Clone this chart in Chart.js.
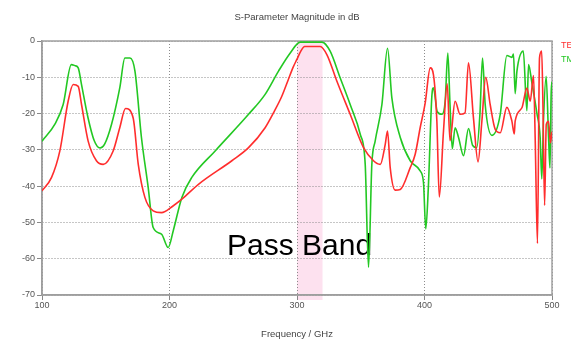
<!DOCTYPE html>
<html>
<head>
<meta charset="utf-8">
<script src="https://cdn.jsdelivr.net/npm/chart.js@4.4.1/dist/chart.umd.min.js"></script>
<style>
  html, body { margin: 0; padding: 0; background: #fff; }
  #wrap { width: 571px; height: 343px; position: relative; }
</style>
</head>
<body>
<div id="wrap"><canvas id="sparamChart"></canvas></div>
<script>
// TE mode (red), frequency in GHz and magnitude in dB
const teFreq = [100, 107.5, 114, 120.5, 124.5, 128.4, 131, 136.2, 142.7, 148, 155.8, 161, 165.5, 171.5,
  175.5, 180.7, 187.2, 193.7, 203, 209.7, 222.7, 248.9, 262, 275, 282, 288, 293, 297, 300, 303, 306,
  318.2, 323.5, 331.3, 341.7, 352.2, 360, 365.3, 369.2, 371, 373.1, 377, 381, 388.8, 392.7, 396.6,
  400.5, 404.5, 407, 409.7, 411.6, 414.9, 417.8, 420, 424, 427.9, 431.8, 434.5, 438.4, 442, 445,
  448, 451.5, 455.4, 459.4, 464.6, 468.5, 470.4, 471.1, 476.4, 480.3, 482.9, 485.5, 486.8, 488.6,
  490.2, 491.9, 492.9, 494.2, 495.5, 497.3, 498.7, 500];
const teMag = [-41.3, -37.6, -30.3, -16.6, -12, -12.5, -17.5, -27.6, -33, -34, -30.3, -23.9, -18.6, -21.2,
  -34, -43.1, -46.8, -47.3, -45.4, -43.6, -39.5, -33, -29.4, -23.9, -19.5, -15.3, -10.8, -7.2, -5, -2.8, -1.5,
  -1.5, -3.8, -11.1, -20.2, -29.4, -33, -34, -28.5, -24.8, -34.9, -41.1, -40.9, -34.9, -31.2, -23.9,
  -17.2, -7.4, -9.3, -22.1, -43, -24.8, -11.8, -27.5, -16.6, -20.2, -19.8, -6, -21.2, -33.3, -22.1,
  -10, -17.5, -24.3, -25.3, -18.3, -22, -25.6, -22.1, -18.4, -13, -16.6, -9.5, -26.6, -55.8,
  -4.7, -2.8, -17.5, -45.3, -23, -22.1, -28, -25];

// TM mode (green)
const tmFreq = [100, 110, 116.6, 123, 126, 128.4, 131, 136, 141, 145.5, 149, 154.5, 161, 165, 169, 172.9,
  178, 183.3, 187.2, 193.7, 199, 203, 209.7, 217.5, 235.8, 262, 275, 285.5, 294.7, 302.5, 319.5, 326,
  333.9, 341.7, 349.6, 353.5, 356.1, 358.7, 361.3, 366.6, 371, 374.4, 381, 388.8, 396.6, 399.2, 401,
  403, 405.8, 407, 410, 413.6, 416.2, 418.3, 420, 421.8, 424, 426.7, 430.6, 434.5, 437.8, 441, 443.5,
  445.5, 447.6, 452.9, 459.4, 464.6, 468.5, 469.8, 471.1, 472.5, 477.5, 480.3, 481.6, 484.2, 488.2,
  490.7, 492, 493.3, 495.4, 497.3, 498.4, 499.3, 500];
const tmMag = [-27.6, -23, -17.5, -6.5, -6.8, -7.4, -12, -21, -27.5, -29.5, -28.5, -23, -12.9, -4.7, -4.7, -8.3,
  -26.6, -40.4, -51.4, -53.2, -56.9, -52.2, -43.1, -37.6, -30.3, -20.2, -14.7, -8.3, -3.3, -0.3, -0.3, -2.8,
  -10.2, -17.5, -25.7, -34, -62.4, -34, -27.6, -17.5, -2, -15.7, -26.6, -33, -35.8, -39, -51.8,
  -40.4, -15, -12.9, -19.5, -20.2, -16.6, -3.3, -17.5, -29.7, -23.9, -26.6, -31.6, -24.1, -28.8, -29.4, -20,
  -4.7, -17.5, -26, -20.2, -4, -4.5, -3.6, -14.5, -8.3, -2.8, -19.2, -6.5, -11.5, -20,
  -26.6, -38, -22.1, -9.7, -26.6, -35, -15, -11.2];

const xTicks = [100, 200, 300, 400, 500];
const yTicks = [0, -10, -20, -30, -40, -50, -60, -70];
const passBand = [300, 320];

function toPoints(xs, ys) {
  return xs.map((x, i) => ({ x: x, y: ys[i] }));
}

// pink pass band strip behind everything
const passBandPlugin = {
  id: "passBand",
  beforeDraw(chart) {
    const { ctx, chartArea } = chart;
    const x = chart.scales.x;
    const x1 = x.getPixelForValue(passBand[0]);
    const x2 = x.getPixelForValue(passBand[1]);
    ctx.save();
    ctx.fillStyle = "rgba(252, 205, 228, 0.6)";
    ctx.fillRect(x1, chartArea.top, x2 - x1, chartArea.bottom - chartArea.top + 5);
    ctx.restore();
  },
  beforeDatasetsDraw(chart) {
    const { ctx, chartArea } = chart;
    const x = chart.scales.x;
    const y = chart.scales.y;
    ctx.save();
    // frame around plot
    ctx.strokeStyle = "#a0a0a0";
    ctx.lineWidth = 1.5;
    ctx.strokeRect(chartArea.left, chartArea.top, chartArea.right - chartArea.left, chartArea.bottom - chartArea.top);
    // big annotation
    ctx.fillStyle = "#000";
    ctx.font = "30px 'Liberation Sans', Arial, sans-serif";
    ctx.textAlign = "center";
    ctx.textBaseline = "alphabetic";
    ctx.fillText("Pass Band", x.getPixelForValue(302), y.getPixelForValue(-59));
    ctx.restore();
  },
  afterDraw(chart) {
    const { ctx, chartArea } = chart;
    ctx.save();
    ctx.fillStyle = "#444";
    ctx.font = "9.5px 'Liberation Sans', Arial, sans-serif";
    ctx.textAlign = "center";
    ctx.textBaseline = "middle";
    ctx.fillText("S-Parameter Magnitude in dB", (chartArea.left + chartArea.right) / 2, 17);
    // legend, cut off by the page edge like in the original
    ctx.textAlign = "left";
    ctx.font = "9px 'Liberation Sans', Arial, sans-serif";
    ctx.fillStyle = "rgb(255, 45, 45)";
    ctx.fillText("TE", chartArea.right + 9, 46);
    ctx.fillStyle = "rgb(35, 200, 35)";
    ctx.fillText("TM", chartArea.right + 9, 60);
    ctx.restore();
  }
};

const tickFont = { family: "'Liberation Sans', Arial, sans-serif", size: 9 };

const ctx = document.getElementById("sparamChart").getContext("2d");
new Chart(ctx, {
  type: "line",
  data: {
    datasets: [
      {
        label: "TE",
        data: toPoints(teFreq, teMag),
        borderColor: "rgb(255, 45, 45)",
        borderWidth: 1.6,
        pointRadius: 0,
        cubicInterpolationMode: "monotone",
        fill: false,
      },
      {
        label: "TM",
        data: toPoints(tmFreq, tmMag),
        borderColor: "rgb(35, 200, 35)",
        borderWidth: 1.6,
        pointRadius: 0,
        cubicInterpolationMode: "monotone",
        fill: false,
      },
    ],
  },
  options: {
    responsive: true,
    maintainAspectRatio: false,
    animation: false,
    layout: { padding: { top: 41, right: 19, left: 0, bottom: 0 } },
    plugins: {
      legend: { display: false },
      tooltip: { enabled: false },
      title: { display: false },
    },
    scales: {
      x: {
        type: "linear",
        min: 100,
        max: 500,
        afterBuildTicks: (scale) => { scale.ticks = xTicks.map((v) => ({ value: v })); },
        afterFit: (scale) => { scale.height = 48; },
        grid: { color: "#8c8c8c", lineWidth: 1, tickLength: 5, tickColor: "#888" },
        border: { display: true, color: "#999", width: 1.5, dash: [1, 2] },
        ticks: { color: "#555", font: tickFont, padding: 0, maxRotation: 0 },
        title: {
          display: true,
          text: "Frequency / GHz",
          color: "#444",
          font: { family: "'Liberation Sans', Arial, sans-serif", size: 9.5 },
          padding: { top: 0, bottom: 3 },
        },
      },
      y: {
        min: -70,
        max: 0,
        afterBuildTicks: (scale) => { scale.ticks = yTicks.map((v) => ({ value: v })); },
        afterFit: (scale) => { scale.width = 42; },
        grid: { color: "#8c8c8c", lineWidth: 1, tickLength: 5, tickColor: "#888" },
        border: { display: true, color: "#999", width: 1.5, dash: [1, 2] },
        ticks: { color: "#555", font: tickFont, padding: 2 },
      },
    },
  },
  plugins: [passBandPlugin],
});
</script>
</body>
</html>
